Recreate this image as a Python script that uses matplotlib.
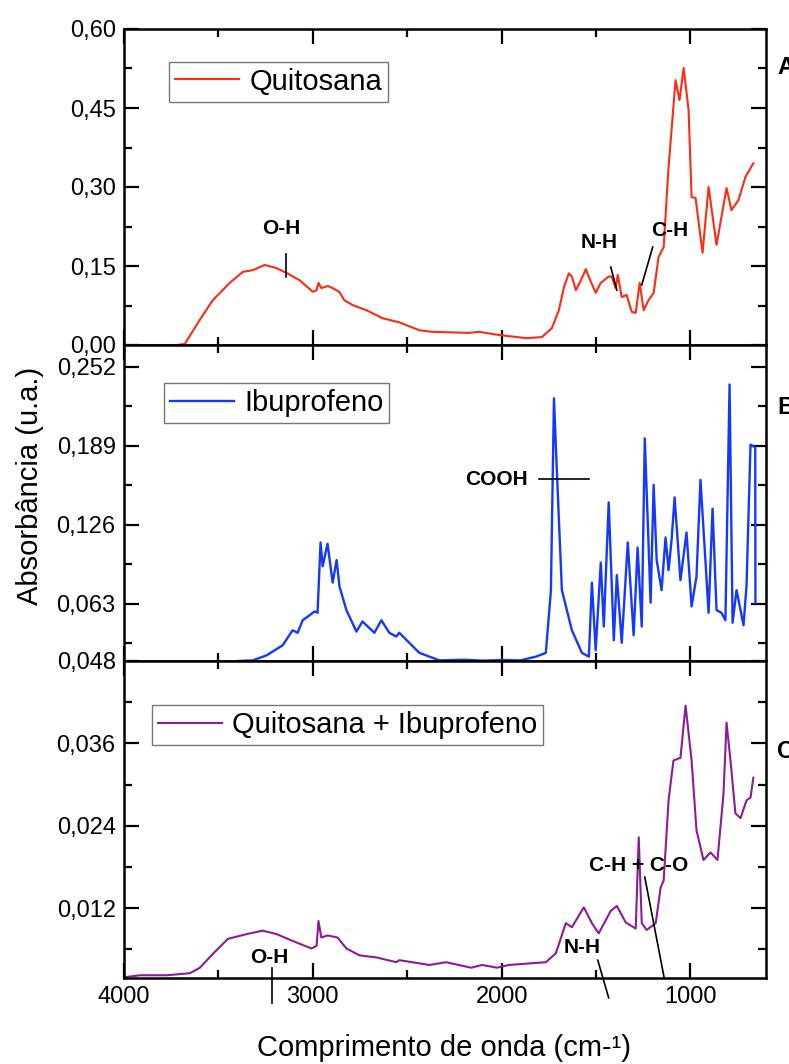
import matplotlib.pyplot as plt
from matplotlib.ticker import FixedLocator, MultipleLocator, FuncFormatter

plt.rcParams['font.family'] = ['Liberation Sans', 'DejaVu Sans']

# ---- data (wavenumber cm-1, absorbance) ----
quit_x = [4000, 3850, 3720, 3678, 3600, 3530, 3440, 3370, 3318, 3255, 3192, 3140, 3070,
          3000, 2980, 2970, 2955, 2920, 2895, 2860, 2833, 2790, 2716, 2632, 2542, 2436,
          2368, 2172, 2120, 2014, 1870, 1787, 1734, 1697, 1670, 1644, 1628, 1607, 1580,
          1554, 1538, 1502, 1475, 1433, 1417, 1396, 1385, 1364, 1338, 1311, 1290, 1269,
          1248, 1222, 1195, 1169, 1142, 1116, 1079, 1058, 1036, 1010, 994, 973, 936, 904,
          862, 809, 783, 746, 709, 667]
quit_y = [0.000, 0.000, 0.000, 0.002, 0.047, 0.085, 0.118, 0.139, 0.142, 0.152, 0.146,
          0.137, 0.123, 0.101, 0.104, 0.118, 0.108, 0.112, 0.108, 0.101, 0.085, 0.076,
          0.066, 0.051, 0.043, 0.028, 0.025, 0.023, 0.025, 0.019, 0.013, 0.015, 0.032,
          0.066, 0.110, 0.136, 0.130, 0.104, 0.123, 0.144, 0.129, 0.099, 0.118, 0.130,
          0.130, 0.108, 0.133, 0.091, 0.095, 0.063, 0.061, 0.118, 0.066, 0.085, 0.099,
          0.167, 0.186, 0.338, 0.503, 0.465, 0.526, 0.446, 0.281, 0.279, 0.175, 0.300,
          0.190, 0.298, 0.256, 0.275, 0.319, 0.345]

ibu_x = [3398, 3318, 3245, 3160, 3107, 3080, 3054, 3017, 2991, 2975, 2959, 2948, 2922,
         2895, 2874, 2859, 2822, 2769, 2737, 2674, 2637, 2595, 2558, 2542, 2436, 2330,
         2200, 2100, 2000, 1900, 1818, 1766, 1739, 1723, 1707, 1681, 1628, 1575, 1538,
         1522, 1502, 1475, 1459, 1433, 1406, 1390, 1364, 1332, 1301, 1280, 1258, 1242,
         1211, 1195, 1179, 1153, 1132, 1116, 1100, 1084, 1053, 1021, 994, 968, 947, 904,
         883, 862, 836, 815, 793, 777, 756, 719, 703, 682, 657, 656]
ibu_y = [0.0175, 0.018, 0.022, 0.030, 0.042, 0.040, 0.050, 0.054, 0.057, 0.056, 0.112,
         0.093, 0.111, 0.080, 0.098, 0.077, 0.058, 0.041, 0.049, 0.040, 0.050, 0.040,
         0.037, 0.040, 0.024, 0.0180, 0.0185, 0.0178, 0.0183, 0.0180, 0.021, 0.024,
         0.074, 0.227, 0.167, 0.074, 0.042, 0.024, 0.021, 0.080, 0.026, 0.096, 0.045,
         0.144, 0.034, 0.086, 0.032, 0.112, 0.038, 0.108, 0.045, 0.195, 0.064, 0.158,
         0.098, 0.074, 0.116, 0.090, 0.114, 0.148, 0.082, 0.120, 0.061, 0.085, 0.162,
         0.056, 0.139, 0.058, 0.056, 0.050, 0.238, 0.048, 0.074, 0.046, 0.078, 0.190,
         0.188, 0.064]

mix_x = [4000, 3915, 3773, 3651, 3598, 3530, 3450, 3350, 3266, 3192, 3107, 3007, 2980,
         2970, 2955, 2922, 2869, 2822, 2753, 2663, 2558, 2542, 2383, 2294, 2162, 2103,
         2024, 1961, 1766, 1713, 1660, 1628, 1565, 1522, 1486, 1422, 1390, 1343, 1290,
         1274, 1258, 1232, 1184, 1158, 1142, 1116, 1090, 1053, 1026, 994, 968, 931, 894,
         857, 825, 809, 788, 762, 735, 703, 682, 667]
mix_y = [0.0019, 0.0022, 0.0022, 0.0025, 0.0033, 0.0053, 0.0075, 0.0082, 0.0087, 0.0082,
         0.0072, 0.0061, 0.0065, 0.0101, 0.0077, 0.0080, 0.0077, 0.0061, 0.0051, 0.0048,
         0.0041, 0.0044, 0.0037, 0.0041, 0.0033, 0.0037, 0.0033, 0.0037, 0.0041, 0.0054,
         0.0098, 0.0092, 0.0121, 0.0098, 0.0083, 0.0116, 0.0123, 0.0099, 0.0090, 0.0223,
         0.0098, 0.0088, 0.0098, 0.0150, 0.0160, 0.0277, 0.0335, 0.0339, 0.0415, 0.0335,
         0.0233, 0.0190, 0.0201, 0.0190, 0.0287, 0.0390, 0.0335, 0.0258, 0.0251, 0.0277,
         0.0281, 0.0310]

labels = ["Quitosana", "Ibuprofeno", "Quitosana + Ibuprofeno"]
panel_letters = ["A", "B", "C"]
ticks_a = [0.00, 0.15, 0.30, 0.45, 0.60]
ticks_b = [0.063, 0.126, 0.189, 0.252]
ticks_c = [0.012, 0.024, 0.036, 0.048]
x_ticks = [4000, 3000, 2000, 1000]

COLORS = ["#ff2a12", "#1538ff", "#8c1c96"]
LWS = [1.5, 1.7, 1.5]


def comma_fmt(dec):
    return FuncFormatter(lambda v, p: f"{v:.{dec}f}".replace(".", ","))


fig = plt.figure(figsize=(7.89, 10.64), dpi=100)
L, W = 124 / 789, 642 / 789
tops = [29, 345, 661]
bots = [345, 661, 978]
axes = []
for t, b in zip(tops, bots):
    axes.append(fig.add_axes([L, 1 - b / 1064, W, (b - t) / 1064]))

series = [(quit_x, quit_y), (ibu_x, ibu_y), (mix_x, mix_y)]
ylims = [(0.0, 0.60), (0.0175, 0.2695), (0.0018, 0.048)]
yticks = [ticks_a, ticks_b, ticks_c]
minors = [0.075, 0.0315, 0.006]
decs = [2, 3, 3]
leg_pos = [(0.070, 0.896), (0.0623, 0.880), (0.0436, 0.861)]

for i, ax in enumerate(axes):
    x, y = series[i]
    ax.plot(x, y, color=COLORS[i], lw=LWS[i], label=labels[i])
    ax.set_xlim(4000, 600)
    ax.set_ylim(*ylims[i])
    ax.xaxis.set_major_locator(FixedLocator(x_ticks))
    ax.xaxis.set_minor_locator(MultipleLocator(500))
    ax.yaxis.set_major_locator(FixedLocator(yticks[i]))
    ax.yaxis.set_minor_locator(MultipleLocator(minors[i]))
    ax.yaxis.set_major_formatter(comma_fmt(decs[i]))
    ax.tick_params(which="both", direction="in", top=True, right=True, width=1.6,
                   labelsize=17, colors="black")
    ax.tick_params(which="major", length=11, pad=6)
    ax.tick_params(which="minor", length=6)
    for s in ax.spines.values():
        s.set_linewidth(1.8)
    if i < 2:
        ax.tick_params(axis="x", labelbottom=False)
    leg = ax.legend(loc="upper left", bbox_to_anchor=leg_pos[i], borderaxespad=0,
                    fontsize=21, fancybox=False, edgecolor="#777777", framealpha=1,
                    handlelength=2.2, handletextpad=0.35, borderpad=0.2)
    leg.get_frame().set_linewidth(1.0)
    fig.text(777 / 789, 1 - [68, 408, 752][i] / 1064, panel_letters[i],
             fontsize=17, fontweight="bold", ha="left", va="center")

axes[2].xaxis.set_major_formatter(FuncFormatter(lambda v, p: f"{int(v)}"))

# annotations
ann = dict(fontsize=15, fontweight="bold", ha="center", va="center")
axA, axB, axC = axes
axA.text(3165, 0.222, "O-H", **ann)
axA.plot([3144, 3144], [0.173, 0.129], color="black", lw=1.2)
axA.text(1485, 0.194, "N-H", **ann)
axA.plot([1422, 1390], [0.148, 0.104], color="black", lw=1.2)
axA.text(1110, 0.218, "C-H", **ann)
axA.plot([1200, 1258], [0.186, 0.114], color="black", lw=1.2)

axB.text(2030, 0.162, "COOH", **ann)
axB.plot([1802, 1538], [0.163, 0.163], color="black", lw=1.2)

axC.text(3229, 0.0048, "O-H", **ann)
axC.plot([3218, 3218], [0.0033, -0.0018], color="black", lw=1.2, clip_on=False)
axC.text(1575, 0.0063, "N-H", **ann)
axC.plot([1491, 1433], [0.0044, -0.0011], color="black", lw=1.2, clip_on=False)
axC.text(1274, 0.0182, "C-H + C-O", **ann)
axC.plot([1242, 1137], [0.0165, 0.0015], color="black", lw=1.2)

fig.text(30 / 789, 1 - 486 / 1064, "Absorbância (u.a.)", rotation=90,
         fontsize=21, ha="center", va="center")
fig.text(444 / 789, 1 - 1048 / 1064, "Comprimento de onda (cm-¹)",
         fontsize=21, ha="center", va="center")

fig.savefig("out.png", dpi=100)
